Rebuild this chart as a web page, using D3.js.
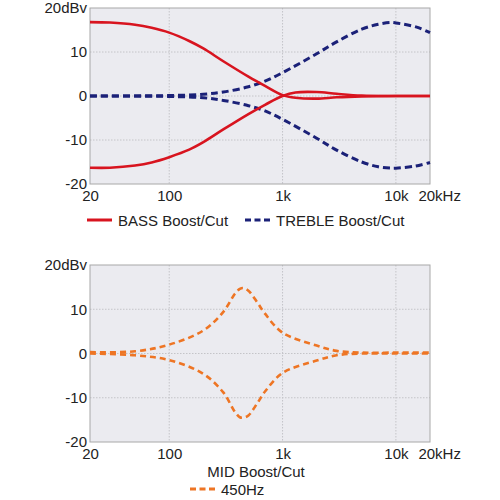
<!DOCTYPE html>
<html>
<head>
<meta charset="utf-8">
<script src="https://cdn.jsdelivr.net/npm/d3@7"></script>
<style>
  body { margin: 0; background: #fff; }
  text { font-family: "Liberation Sans", Arial, sans-serif; font-size: 15px; fill: #222; }
</style>
</head>
<body>
<script>
// frequencies (Hz) and response (dB)
var bassFreq   = [20, 30, 50, 70, 100, 150, 200, 300, 500, 700, 1000, 1300, 2000, 3000, 5000, 10000, 20000];
var bassBoost  = [16.8, 16.7, 16.2, 15.5, 14.4, 12.5, 10.8, 7.9, 4.4, 2.3, 0.2, -0.4, -0.6, -0.3, -0.1, 0, 0];
var bassCut    = [-16.3, -16.3, -15.8, -15.1, -13.9, -12.2, -10.5, -7.6, -4.1, -2.0, 0, 0.8, 0.9, 0.5, 0.1, 0, 0];

var trebleFreq  = [20, 100, 200, 300, 500, 700, 1000, 2000, 3000, 5000, 7000, 9000, 10000, 15000, 20000];
var trebleBoost = [0, 0.1, 0.4, 0.9, 2.1, 3.4, 5.3, 9.6, 12.3, 15.2, 16.3, 16.7, 16.6, 15.7, 14.4];
var trebleCut   = [0, -0.1, -0.4, -1.0, -2.2, -3.4, -5.3, -9.6, -12.3, -15.0, -16.1, -16.4, -16.4, -15.9, -15.1];

var midFreq  = [20, 50, 100, 200, 300, 380, 420, 450, 500, 600, 700, 1000, 2000, 3000, 5000, 10000, 20000];
var midBoost = [0.3, 0.5, 2.0, 5.2, 9.4, 13.5, 14.6, 14.8, 14.2, 11.5, 9.0, 4.7, 1.8, 0.6, 0.2, 0.2, 0.2];
var midCut   = [0, -0.4, -1.5, -4.6, -8.8, -13.2, -14.4, -14.5, -14.0, -11.2, -8.6, -4.4, -1.6, -0.4, 0, 0, 0];

var xTicks = [20, 100, 1000, 10000, 20000];
var xTickLabels = ["20", "100", "1k", "10k", "20k"];
var yTicks = [-20, -10, 0, 10, 20];
var yTickLabels = ["-20", "-10", "0", "10", "20dBv"];

var svg = d3.select("body").append("svg").attr("width", 500).attr("height", 500);

function panel(top, bottom, series) {
  var x = d3.scaleLog().domain([20, 20000]).range([90, 430]);
  var y = d3.scaleLinear().domain([-20, 20]).range([bottom, top]);
  var g = svg.append("g");

  g.append("rect").attr("x", 90).attr("y", top).attr("width", 340).attr("height", bottom - top)
    .attr("fill", "#ebebf0");

  // grid
  g.selectAll(".vg").data([100, 1000, 10000]).enter().append("line")
    .attr("x1", d => x(d)).attr("x2", d => x(d)).attr("y1", top).attr("y2", bottom)
    .attr("stroke", "#c4c4c8").attr("stroke-dasharray", "1.5,1.5");
  g.selectAll(".hg").data([-10, 0, 10]).enter().append("line")
    .attr("x1", 90).attr("x2", 430).attr("y1", d => y(d)).attr("y2", d => y(d))
    .attr("stroke", "#c4c4c8").attr("stroke-dasharray", "1.5,1.5");

  g.append("rect").attr("x", 90).attr("y", top).attr("width", 340).attr("height", bottom - top)
    .attr("fill", "none").attr("stroke", "#a8a8a8");

  // axes
  var ya = g.append("g").attr("transform", "translate(90,0)")
    .call(d3.axisLeft(y).tickValues(yTicks).tickSize(0).tickPadding(3)
      .tickFormat((d, i) => yTickLabels[i]));
  ya.select(".domain").remove();
  ya.selectAll("text").style("font-size", "15px").style("fill", "#222")
    .style("font-family", "Liberation Sans, Arial, sans-serif");

  var xa = g.append("g").attr("transform", "translate(0," + bottom + ")")
    .call(d3.axisBottom(x).tickValues(xTicks).tickSize(0).tickPadding(6)
      .tickFormat((d, i) => xTickLabels[i]));
  xa.select(".domain").remove();
  xa.selectAll("text").style("font-size", "15px").style("fill", "#222")
    .style("font-family", "Liberation Sans, Arial, sans-serif");
  // "Hz" hangs after the last label, which stays centred on its tick
  xa.selectAll("text").filter(d => d === 20000).each(function () {
    var t = d3.select(this);
    var w = this.getComputedTextLength();
    t.attr("text-anchor", "start").attr("x", -w / 2);
    t.append("tspan").text("Hz");
  });

  var line = d3.line().x(d => x(d[0])).y(d => y(d[1])).curve(d3.curveCatmullRom.alpha(0.5));
  series.forEach(function (s) {
    g.append("path").datum(d3.zip(s.freq, s.vals))
      .attr("d", line).attr("fill", "none")
      .attr("stroke", s.color).attr("stroke-width", s.width)
      .attr("stroke-dasharray", s.dash);
  });
}

var red = "#d8141f", navy = "#1b2178", orange = "#ee7524";

panel(8, 184, [
  { freq: trebleFreq, vals: trebleBoost, color: navy, width: 3, dash: "7,4" },
  { freq: trebleFreq, vals: trebleCut, color: navy, width: 3, dash: "7,4" },
  { freq: bassFreq, vals: bassBoost, color: red, width: 2.6, dash: null },
  { freq: bassFreq, vals: bassCut, color: red, width: 2.6, dash: null }
]);

panel(265, 442, [
  { freq: midFreq, vals: midBoost, color: orange, width: 2.6, dash: "6,4" },
  { freq: midFreq, vals: midCut, color: orange, width: 2.6, dash: "6,4" }
]);

// legends
svg.append("line").attr("x1", 87).attr("x2", 112).attr("y1", 220).attr("y2", 220)
  .attr("stroke", red).attr("stroke-width", 3);
svg.append("text").attr("x", 118).attr("y", 226).text("BASS Boost/Cut");
svg.append("line").attr("x1", 245).attr("x2", 270).attr("y1", 220).attr("y2", 220)
  .attr("stroke", navy).attr("stroke-width", 3).attr("stroke-dasharray", "6,3.5");
svg.append("text").attr("x", 276).attr("y", 226).text("TREBLE Boost/Cut");

svg.append("text").attr("x", 256).attr("y", 477).attr("text-anchor", "middle").text("MID Boost/Cut");
svg.append("line").attr("x1", 190).attr("x2", 215).attr("y1", 489).attr("y2", 489)
  .attr("stroke", orange).attr("stroke-width", 3).attr("stroke-dasharray", "6,3.5");
svg.append("text").attr("x", 221).attr("y", 495).text("450Hz");
</script>
</body>
</html>
